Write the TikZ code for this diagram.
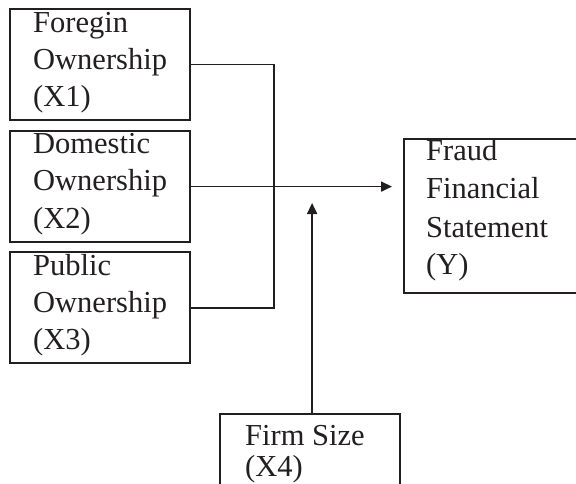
\documentclass[tikz,border=0pt]{standalone}
\usepackage{fontspec}
\setmainfont{Liberation Serif}
\usetikzlibrary{arrows.meta}
\definecolor{ink}{HTML}{231F20}
\tikzset{
  box/.style={draw=ink, line width=2.2pt, rectangle, inner sep=0pt, anchor=north west},
  lbl/.style={anchor=base west, inner sep=0pt, text=ink, font=\fontsize{30.5}{37}\selectfont},
  conn/.style={draw=ink, line width=1.8pt},
  arr/.style={conn, -{Triangle[length=11pt,width=10pt]}}
}
\begin{document}
\begin{tikzpicture}[x=1pt,y=-1pt]
\useasboundingbox (0,0) rectangle (576,484);
\fill[white] (0,0) rectangle (576,484);
\clip (0,0) rectangle (576,484);
% boxes
\node[box, minimum width=180pt, minimum height=111pt] (b1) at (9,8) {};
\node[box, minimum width=180pt, minimum height=111pt] (b2) at (9,130) {};
\node[box, minimum width=180pt, minimum height=111pt] (b3) at (9,251) {};
\node[box, minimum width=200pt, minimum height=154pt] (y) at (403,138) {};
\node[box, minimum width=180pt, minimum height=100pt] (f) at (219,413) {};
% texts
\node[lbl] (t1a) at (33,33) {Foregin};
\node[lbl] (t1b) at (33,70) {Ownership};
\node[lbl] (t1c) at (33,107) {(X1)};
\node[lbl] (t2a) at (33,154) {Domestic};
\node[lbl] (t2b) at (33,191) {Ownership};
\node[lbl] (t2c) at (33,228) {(X2)};
\node[lbl] (t3a) at (33,275) {Public};
\node[lbl] (t3b) at (33,312) {Ownership};
\node[lbl] (t3c) at (33,349) {(X3)};
\node[lbl] (tya) at (426,161) {Fraud};
\node[lbl] (tyb) at (426,199) {Financial};
\node[lbl] (tyc) at (426,237) {Statement};
\node[lbl] (tyd) at (426,274) {(Y)};
\node[lbl] (tfa) at (245,445) {Firm Size};
\node[lbl] (tfb) at (245,476) {(X4)};
% connectors
\coordinate (jx) at (274,0);
\draw[conn] (b1.east) -| (b3.east -| jx) -- (b3.east);
\coordinate (ytip) at (392,0);
\draw[arr] (b2.east) -- (b2.east -| ytip);
\coordinate (ftip) at (0,203);
\draw[arr] ([xshift=2pt]f.north) -- ([xshift=2pt]f.north |- ftip);
\end{tikzpicture}
\end{document}
